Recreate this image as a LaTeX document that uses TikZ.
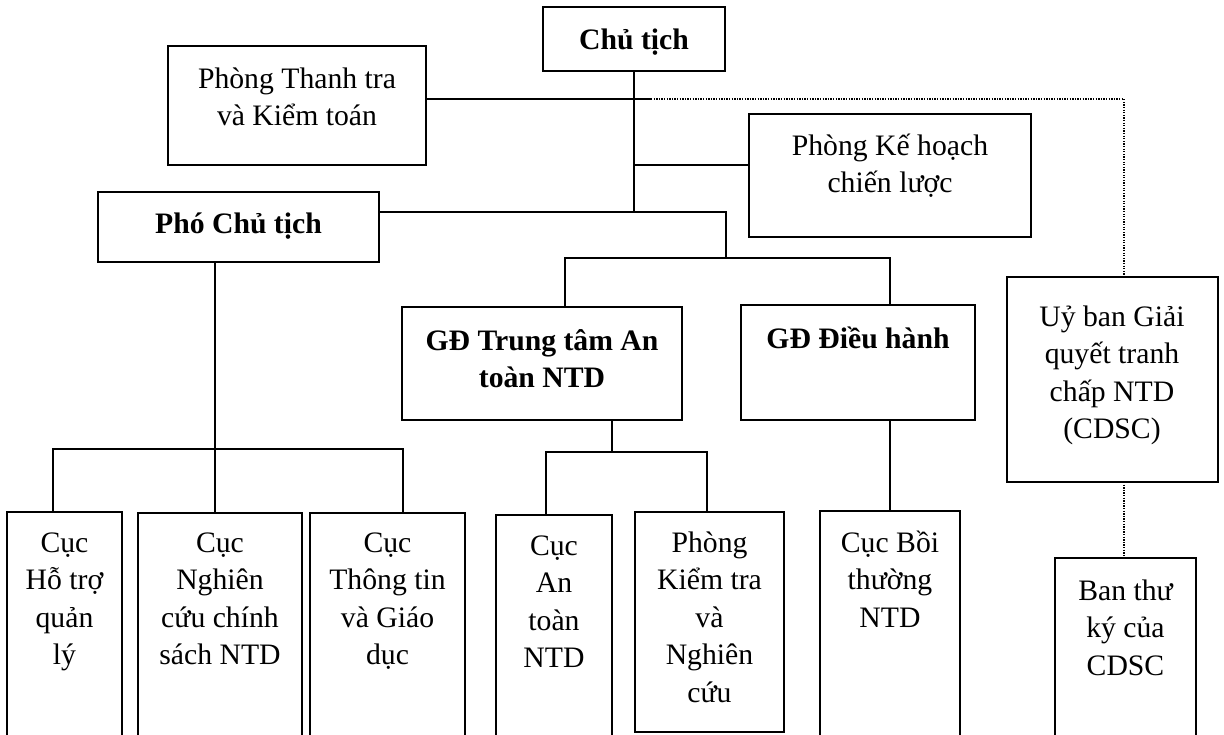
\documentclass[tikz,border=0pt]{standalone}
\usepackage{fontspec}
\setmainfont{Liberation Serif}
\tikzset{
  box/.style={draw, line width=1.6pt, inner sep=0pt, outer sep=0pt, anchor=north west},
  lbl/.style={anchor=north, inner sep=0pt, align=center, font=\fontsize{29.7}{37.5}\selectfont},
  lblb/.style={anchor=north, inner sep=0pt, align=center, font=\fontsize{29.7}{37.5}\selectfont\bfseries},
  conn/.style={line width=1.6pt},
  dots/.style={line width=1.6pt, dash pattern=on 1.3pt off 1.3pt},
}
\newcommand{\fs}{\rule{0pt}{30pt}}
\begin{document}
\begin{tikzpicture}[x=1pt,y=-1pt]
\useasboundingbox (0,0) rectangle (1224,735);
\clip (0,0) rectangle (1224,735);
\fill[white] (0,0) rectangle (1224,735);

% boxes
\node[box, minimum width=182pt, minimum height=64pt]  (chu)      at (543,7) {};
\node[box, minimum width=258pt, minimum height=119pt] (thanhtra) at (168,46) {};
\node[box, minimum width=282pt, minimum height=123pt] (kehoach)  at (749,114) {};
\node[box, minimum width=281pt, minimum height=70pt]  (pho)      at (98,192) {};
\node[box, minimum width=280pt, minimum height=113pt] (gdtt)     at (402,307) {};
\node[box, minimum width=234pt, minimum height=115pt] (gddh)     at (741,305) {};
\node[box, minimum width=211pt, minimum height=205pt] (uyban)    at (1007,277) {};
\node[box, minimum width=115pt, minimum height=260pt] (c1)       at (7,512) {};
\node[box, minimum width=164pt, minimum height=260pt] (c2)       at (138,513) {};
\node[box, minimum width=155pt, minimum height=260pt] (c3)       at (310,513) {};
\node[box, minimum width=116pt, minimum height=260pt] (cat)      at (496,515) {};
\node[box, minimum width=149pt, minimum height=220pt] (pkt)      at (635,512) {};
\node[box, minimum width=140pt, minimum height=260pt] (cbt)      at (820,511) {};
\node[box, minimum width=141pt, minimum height=220pt] (btk)      at (1055,558) {};

% texts
\node[lblb] (chu-t)      at (634,19)    {\fs Chủ tịch};
\node[lbl]  (thanhtra-t) at (297,58)    {\fs Phòng Thanh tra\\và Kiểm toán};
\node[lbl]  (kehoach-t)  at (890,125)   {\fs Phòng Kế hoạch\\chiến lược};
\node[lblb] (pho-t)      at (238.5,203) {\fs Phó Chủ tịch};
\node[lblb] (gdtt-t)     at (542,320)   {\fs GĐ Trung tâm An\\toàn NTD};
\node[lblb] (gddh-t)     at (858,318)   {\fs GĐ Điều hành};
\node[lbl]  (uyban-t)    at (1112,296)  {\fs Uỷ ban Giải\\quyết tranh\\chấp NTD\\(CDSC)};
\node[lbl]  (c1-t)       at (64.5,522)  {\fs Cục\\Hỗ trợ\\quản\\lý};
\node[lbl]  (c2-t)       at (220,522)   {\fs Cục\\Nghiên\\cứu chính\\sách NTD};
\node[lbl]  (c3-t)       at (387.5,522) {\fs Cục\\Thông tin\\và Giáo\\dục};
\node[lbl]  (cat-t)      at (554,525)   {\fs Cục\\An\\toàn\\NTD};
\node[lbl]  (pkt-t)      at (709.5,522) {\fs Phòng\\Kiểm tra\\và\\Nghiên\\cứu};
\node[lbl]  (cbt-t)      at (890,522)   {\fs Cục Bồi\\thường\\NTD};
\node[lbl]  (btk-t)      at (1125.5,570) {\fs Ban thư\\ký của\\CDSC};

% junction coordinates
\coordinate (hub)       at (634,212);
\coordinate (ttj)       at (634,99);
\coordinate (khj)       at (634,165);
\coordinate (dotstart)  at (651,99);
\coordinate (dotcorner) at (1124,99);
\coordinate (gdbar)     at (726,258);
\coordinate (gdL)       at (565,258);
\coordinate (gdR)       at (890,258);
\coordinate (pj)        at (215,449);
\coordinate (pL)        at (53,449);
\coordinate (pR)        at (403,449);
\coordinate (tj)        at (612,452);
\coordinate (tL)        at (546,452);
\coordinate (tR)        at (707,452);

% connectors
\draw[conn] (chu.south) -- (hub);
\draw[conn] (thanhtra.east |- ttj) -- (dotstart);
\draw[dots] (dotstart) -- (dotcorner) -- (uyban.north -| dotcorner);
\draw[conn] (khj) -- (kehoach.west |- khj);
\draw[conn] (pho.east |- hub) -- (hub -| gdbar) -- (gdbar);
\draw[conn] (gdtt.north -| gdL) -- (gdL) -- (gdR) -- (gddh.north -| gdR);
\draw[conn] (pho.south -| pj) -- (c2.north -| pj);
\draw[conn] (c1.north -| pL) -- (pL) -- (pR) -- (c3.north -| pR);
\draw[conn] (gdtt.south -| tj) -- (tj);
\draw[conn] (cat.north -| tL) -- (tL) -- (tR) -- (pkt.north -| tR);
\draw[conn] (gddh.south -| cbt.north) -- (cbt.north);
\draw[dots] (uyban.south -| dotcorner) -- (btk.north -| dotcorner);
\end{tikzpicture}
\end{document}
